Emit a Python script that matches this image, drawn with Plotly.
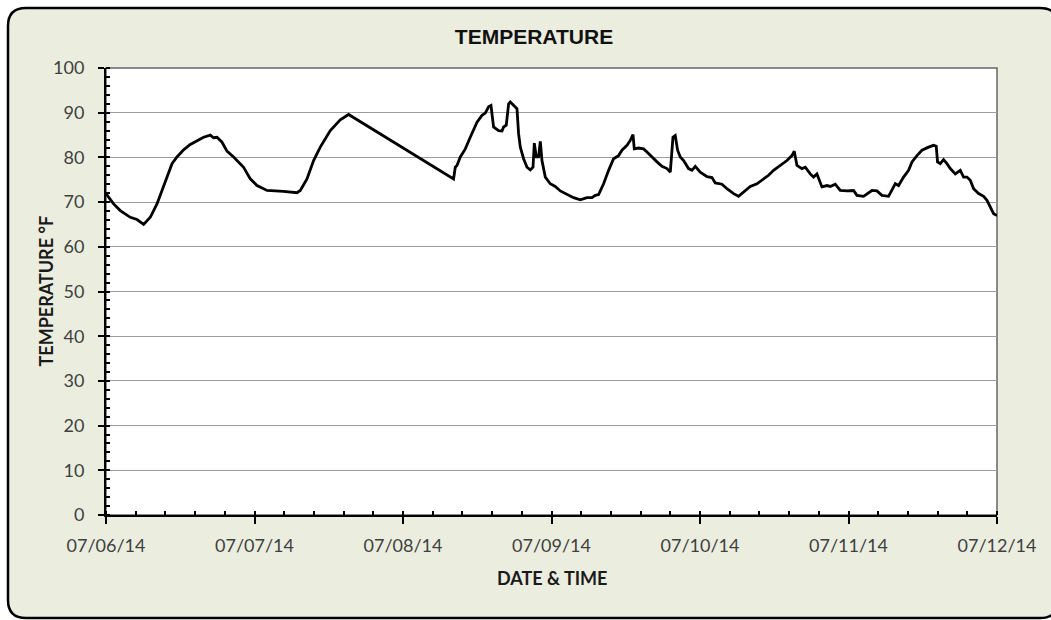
import datetime as dt
import plotly.graph_objects as go

# ---- data ----
start_date = "2014-07-06 00:00"
hours = [
    0.0, 1.23, 2.31, 3.93, 5.01, 6.08, 7.16, 8.24, 9.05, 9.86, 10.67, 11.47, 12.54, 13.62,
    14.71, 15.77, 16.85, 17.39, 17.94, 18.75, 19.55, 20.62, 22.24, 23.32, 24.40, 26.02,
    28.70, 30.87, 31.40, 32.48, 33.55, 34.63, 36.25, 37.86, 39.21,
    56.17, 56.45, 56.72, 57.26, 58.07, 58.87, 59.96, 60.77, 61.30, 61.83, 62.22, 62.64,
    63.45, 64.00, 64.26, 64.69, 65.07, 65.34, 65.87, 66.42, 66.68, 66.96, 67.49, 68.04,
    68.57, 69.01, 69.22, 69.54, 69.91, 70.19, 70.46, 71.00, 71.80, 72.61, 73.42, 74.50,
    75.57, 76.65, 77.73, 78.54, 79.08, 79.61, 80.42, 81.23, 82.03, 82.84, 83.39, 84.20,
    84.73, 85.17, 85.38, 86.07, 86.88, 87.43, 87.96, 88.50, 89.05, 89.85, 90.66, 91.20,
    91.63, 92.00, 92.38, 92.81, 93.35, 94.15, 94.70, 95.24, 96.04, 97.13, 97.93, 98.47,
    99.55, 100.36, 101.43, 102.23, 103.04, 104.12, 105.21, 106.27, 107.08, 107.89, 108.97,
    110.05, 110.86, 111.23, 111.67, 112.48, 113.01, 113.82, 114.35, 114.90, 115.71, 116.52,
    117.05, 117.86, 118.67, 119.75, 120.82, 121.37, 122.43, 122.98, 123.79, 124.60, 125.40,
    126.47, 127.02, 127.56, 128.09, 128.90, 129.71, 130.26, 131.07, 131.87, 132.94, 133.75,
    134.18, 134.39, 134.83, 135.36, 135.91, 136.45, 137.26, 138.07, 138.60, 139.15, 139.68,
    140.22, 141.03, 141.84, 142.38, 142.91, 143.45, 144.0,
]
temperature_f = [
    71.9, 69.6, 68.1, 66.6, 66.1, 65.0, 66.6, 69.6, 72.6, 75.6, 78.6, 80.1, 81.7, 82.9,
    83.8, 84.5, 85.0, 84.4, 84.5, 83.4, 81.4, 80.1, 77.8, 75.2, 73.7, 72.6,
    72.4, 72.1, 72.6, 75.2, 79.3, 82.3, 86.0, 88.4, 89.6,
    75.2, 77.8, 78.2, 80.1, 81.9, 84.5, 87.9, 89.4, 89.9, 91.3, 91.6, 86.8,
    86.0, 85.9, 86.8, 87.2, 92.0, 92.4, 91.6, 90.9, 85.3, 82.3, 79.7, 77.8,
    77.2, 77.8, 83.2, 80.1, 80.1, 83.6, 79.3, 75.6, 74.1, 73.5, 72.5, 71.7,
    71.0, 70.5, 71.0, 71.0, 71.5, 71.7, 74.1, 77.1, 79.7, 80.4, 81.6, 82.7,
    83.8, 85.1, 81.9, 82.1, 81.9, 81.2, 80.4, 79.7, 79.0, 78.0, 77.5, 76.7,
    84.5, 84.9, 81.6, 80.1, 79.3, 77.5, 77.1, 78.0, 76.7, 75.7, 75.5, 74.3,
    74.0, 73.0, 71.9, 71.3, 72.2, 73.5, 74.1, 75.2, 76.0, 77.1, 78.2,
    79.3, 80.4, 81.4, 78.2, 77.5, 77.8, 76.3, 75.6, 76.3, 73.4, 73.7,
    73.5, 74.0, 72.6, 72.5, 72.6, 71.5, 71.3, 71.9, 72.6, 72.5, 71.5,
    71.3, 72.6, 74.1, 73.7, 75.6, 77.1, 79.0, 80.4, 81.6, 82.3, 82.7,
    82.5, 79.0, 78.6, 79.5, 78.6, 77.5, 76.3, 77.1, 75.6, 75.6, 74.9,
    73.0, 71.9, 71.3, 70.4, 68.9, 67.4, 67.0,
]
x_range = ["2014-07-06 00:00", "2014-07-12 00:00"]
y_range = [0, 100]
title_text = "TEMPERATURE"
x_title = "DATE &amp; TIME"
y_title = "TEMPERATURE °F"

t0 = dt.datetime.strptime(start_date, "%Y-%m-%d %H:%M")
times = [t0 + dt.timedelta(hours=h) for h in hours]

# ---- layout geometry (pixels) ----
W, H = 1051, 620
ML, MR, MT, MB = 106, 54, 68, 105
PW, PH = W - ML - MR, H - MT - MB


def px(x):
    return (x - ML) / PW


def py(y):
    return (H - MB - y) / PH


# rounded frame path
fx0, fy0, fx1, fy1, r = 8, 8, 1058, 618, 18
pts = [
    ("M", fx0 + r, fy0), ("L", fx1 - r, fy0), ("Q", fx1, fy0, fx1, fy0 + r),
    ("L", fx1, fy1 - r), ("Q", fx1, fy1, fx1 - r, fy1), ("L", fx0 + r, fy1),
    ("Q", fx0, fy1, fx0, fy1 - r), ("L", fx0, fy0 + r), ("Q", fx0, fy0, fx0 + r, fy0),
]
path = ""
for p in pts:
    cmd = p[0]
    coords = p[1:]
    s = []
    for i in range(0, len(coords), 2):
        s.append(f"{px(coords[i]):.5f},{py(coords[i + 1]):.5f}")
    path += cmd + " " + " ".join(s) + " "
path += "Z"

tick_font = dict(family="Lato, 'Open Sans', sans-serif", size=18, color="#404040")
title_font = dict(family="Lato, 'Open Sans', sans-serif", size=18, color="#1a1a1a")

fig = go.Figure()
fig.add_trace(go.Scatter(
    x=times, y=temperature_f, mode="lines",
    line=dict(color="black", width=2.8), showlegend=False, hoverinfo="x+y",
))
# empty trace to activate overlay axes (for crossing tick marks)
fig.add_trace(go.Scatter(x=[], y=[], xaxis="x2", yaxis="y2", showlegend=False))

fig.update_layout(
    width=W, height=H,
    margin=dict(l=ML, r=MR, t=MT, b=MB),
    paper_bgcolor="white",
    plot_bgcolor="rgba(0,0,0,0)",
    showlegend=False,
    title=dict(
        text=f"<b>{title_text}</b>", x=534 / W, xref="container", xanchor="center",
        y=1 - 37 / H, yref="container", yanchor="middle",
        font=dict(family="'Liberation Sans', Arial, sans-serif", size=21, color="#111111"),
    ),
    xaxis=dict(
        type="date", range=x_range,
        tick0="2014-07-06", dtick=86400000, tickformat="%m/%d/%y",
        ticks="outside", ticklen=7, tickwidth=2, tickcolor="black",
        minor=dict(ticks="inside", ticklen=4, tickwidth=1.5, tickcolor="black",
                   tick0="2014-07-06", dtick=17280000, showgrid=False),
        showline=True, linecolor="black", linewidth=2,
        showgrid=False, zeroline=False, tickfont=tick_font,
        ticklabelstandoff=6,
    ),
    yaxis=dict(
        range=y_range, tick0=0, dtick=10,
        ticks="outside", ticklen=6, tickwidth=2, tickcolor="black",
        minor=dict(ticks="inside", ticklen=4, tickwidth=1.5, tickcolor="black",
                   dtick=2, showgrid=False),
        showline=True, linecolor="black", linewidth=2,
        showgrid=True, gridcolor="#9c9c9c", gridwidth=1,
        zeroline=False, tickfont=tick_font, ticklabelstandoff=10,
    ),
    xaxis2=dict(
        type="date", range=x_range, overlaying="x", anchor="y2", side="bottom",
        tick0="2014-07-06", dtick=86400000,
        ticks="inside", ticklen=4, tickwidth=2, tickcolor="black",
        showticklabels=False, showgrid=False, showline=False, zeroline=False,
    ),
    yaxis2=dict(
        range=y_range, overlaying="y", anchor="x2", side="left",
        tick0=0, dtick=10,
        ticks="inside", ticklen=4, tickwidth=2, tickcolor="black",
        showticklabels=False, showgrid=False, showline=False, zeroline=False,
    ),
    shapes=[
        dict(type="path", path=path, xref="paper", yref="paper",
             fillcolor="#EBEEDF", line=dict(color="black", width=2.5), layer="below"),
        dict(type="rect", xref="paper", yref="paper", x0=0, x1=1, y0=0, y1=1,
             fillcolor="white", line=dict(color="#666666", width=1.5), layer="below"),
    ],
    annotations=[
        dict(text=f"<b>{x_title}</b>", xref="paper", yref="paper",
             x=0.5, y=py(578), xanchor="center", yanchor="middle",
             showarrow=False, font=title_font),
        dict(text=f"<b>{y_title}</b>", xref="paper", yref="paper",
             x=px(45), y=0.5, xanchor="center", yanchor="middle", textangle=-90,
             showarrow=False, font=title_font),
    ],
)

fig.write_html(
    "out.html",
    config={"displayModeBar": False},
    post_script="document.body.style.margin='0px';document.body.style.overflow='hidden';",
)
